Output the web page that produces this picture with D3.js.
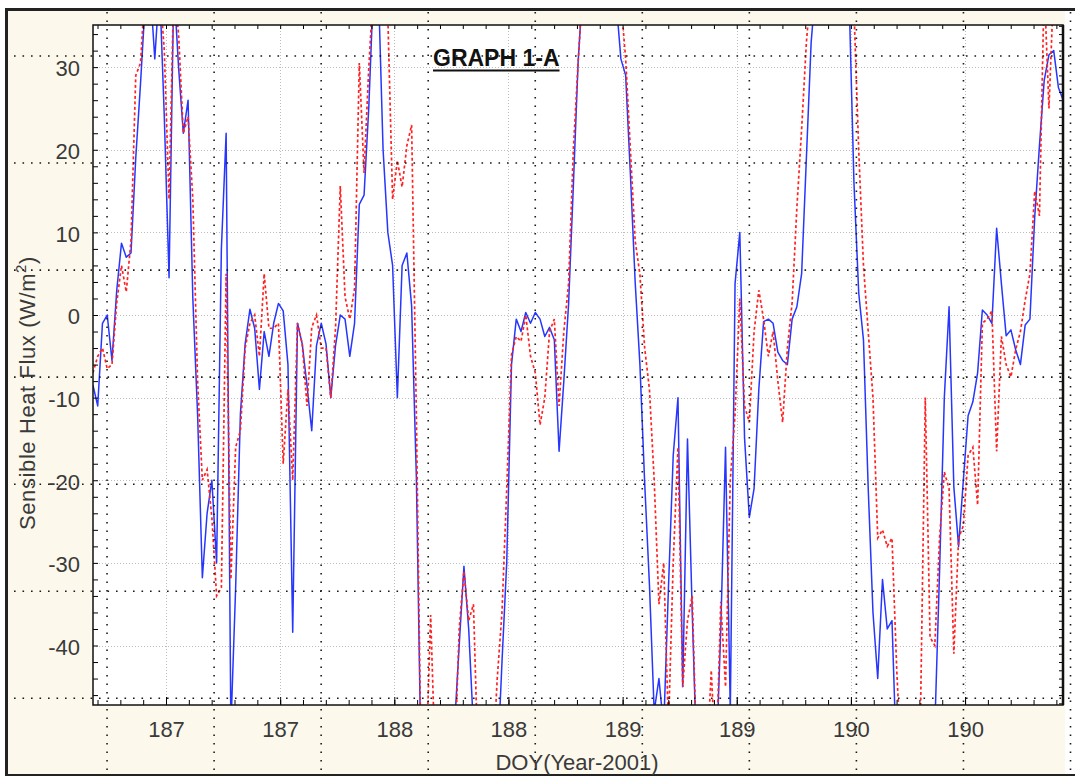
<!DOCTYPE html>
<html lang="en">
<head>
<meta charset="UTF-8">
<title>Graph 1-A</title>
<script src="https://d3js.org/d3.v7.min.js"></script>
<style>
  body { margin: 0; background: #fff; }
  svg { display: block; }
  text { font-family: "Liberation Sans", Arial, sans-serif; }
  .labels .tick text { fill: #3a3a3a; font-size: 22px; }
  .labels .domain { display: none; }
</style>
</head>
<body>
<svg width="1075" height="776"></svg>
<script>
// half-hourly samples starting at DOY 186.28
const doyStart = 186.28;
const doyStep = 1 / 48;

// sensible heat flux, W/m2 (values past the axis limits get clipped)
const measured = [
  -8.5, -11, -1, 0, -5.5, 3, 8.7, 7, 7.5, 19,
  28, 38, 40, 31, 40, 24, 4.5, 40, 30, 22,
  26, 2, -12, -31.8, -24, -20, -30, 8, 22, -50,
  -33, -12, -3.5, 0.7, -1.6, -9, -2, -5, -1, 1.4,
  0.5, -6, -38.4, -1, -3.5, -8.5, -14, -3.7, -1, -3.5,
  -10, -3.7, 0, -0.5, -5, -1, 13.4, 14.5, 25.2, 40,
  40, 20, 10, 6, -10, 6, 7.5, 1.1, -19.7, -55,
  -55, -55, -55, -55, -55, -55, -50, -40, -30.4, -38,
  -50, -55, -55, -55, -55, -55, -42, -29.9, -6, -0.5,
  -2, 0.3, -1, 0.3, -0.5, -2.6, -1.5, -3, -16.5, -8,
  1.3, 15.6, 30.5, 40, 40, 40, 40, 40, 40, 40,
  38, 31, 29, 17, 4, -6, -20.3, -32.6, -48, -44,
  -50, -33, -17, -10, -45, -15, -36, -55, -55, -55,
  -55, -55, -38, -16, -48, 3.8, 10, -14.9, -24.5, -21,
  -9, -0.8, -0.5, -1, -4.5, -5.5, -6, -0.5, 1, 5,
  19, 33, 40, 40, 40, 40, 40, 40, 40, 38,
  16, 2.7, -3, -21, -36, -44, -32, -38, -37, -55,
  -55, -55, -55, -55, -55, -55, -55, -50, -31, -10,
  1, -20.8, -28, -20, -12.2, -10.5, -7, 0.6, 0, -1,
  10.5, 3.8, -2.5, -1.8, -4.2, -6, -1.2, -0.5, 11.8, 20.5,
  28.4, 31.5, 32, 27.5, 26
];

const modelled = [
  -7, -5, -4, -6.5, -6, 1.5, 6, 2.8, 9, 29,
  30.5, 40, 40, 40, 40, 32, 14, 40, 34, 22,
  24, 14, -8, -20, -18.7, -24.5, -34, -33, 5, -32,
  -16, -14, -4, -1, 0, -5, 5, -1.6, -1.6, -1,
  -18, -9, -20, -1, -3.5, -11, -1.5, 0, -4, -4,
  -10, -1.6, 15.6, 2.2, -0.5, 3.2, 30.5, 17.2, 30, 40,
  40, 40, 36, 14, 18.7, 15.5, 20.5, 23, -12.2, -55,
  -55, -36.3, -55, -55, -55, -55, -55, -38, -31, -37,
  -35, -55, -55, -55, -55, -44, -36, -21, -4.8, -2.6,
  -3.2, 0, -5, -7, -13.3, -10, -2, -0.5, -11, -2,
  3.8, 20, 30.5, 40, 40, 40, 40, 40, 40, 40,
  40, 38, 31, 20, 9, 4.9, -4, -9, -20, -35,
  -30, -50, -30, -16, -45, -37, -34, -55, -48, -55,
  -43, -55, -34.7, -45, -20, -12, 2, -11, -13, -2,
  3, -0.5, -5, -2, -8, -13, -4, 1.5, 13, 22.5,
  33, 40, 40, 40, 40, 40, 40, 40, 40, 40,
  37, 20, 6, -2, -10, -27, -26, -28, -27, -43,
  -55, -55, -55, -55, -48, -10, -39, -40, -27, -19,
  -21, -41, -27, -25.5, -17, -16, -23, -1, -0.5, 0.5,
  -16.5, -2.6, -6, -7.5, -4.2, -2, 1.8, 5, 15, 12,
  40, 25, 40, 40, 40
];

const xTicks = [186.6, 187.1, 187.6, 188.1, 188.6, 189.1, 189.6, 190.1];
const yTicks = [-40, -30, -20, -10, 0, 10, 20, 30];

const svg = d3.select("svg");
const W = 1075, H = 776;
const plot = { left: 93, top: 25, right: 1063, bottom: 705 };

const x = d3.scaleLinear().domain([186.2802, 190.529]).range([plot.left, plot.right]);
const y = d3.scaleLinear().domain([-47.2, 35.1]).range([plot.bottom, plot.top]);

// window background + dark border
svg.append("rect").attr("x", 8).attr("y", 11).attr("width", 1057).attr("height", 763).attr("fill", "#fcf8ec");
svg.append("line").attr("x1", 5).attr("x2", W).attr("y1", 9.5).attr("y2", 9.5).attr("stroke", "#222").attr("stroke-width", 3);
svg.append("line").attr("x1", 6.5).attr("x2", 6.5).attr("y1", 8).attr("y2", H).attr("stroke", "#222").attr("stroke-width", 3);
svg.append("line").attr("x1", 5).attr("x2", W).attr("y1", 775).attr("y2", 775).attr("stroke", "#222").attr("stroke-width", 2);

svg.append("rect")
  .attr("x", plot.left).attr("y", plot.top)
  .attr("width", plot.right - plot.left).attr("height", plot.bottom - plot.top)
  .attr("fill", "#fff");

// light dotted grid
const grid = svg.append("g").attr("stroke", "#bdbdbd").attr("stroke-width", 1).attr("stroke-dasharray", "1,2");
grid.selectAll(".gx").data(xTicks).join("line")
  .attr("x1", d => Math.round(x(d)) + 0.5).attr("x2", d => Math.round(x(d)) + 0.5)
  .attr("y1", plot.top).attr("y2", plot.bottom);
grid.selectAll(".gy").data(yTicks).join("line")
  .attr("x1", plot.left).attr("x2", plot.right)
  .attr("y1", d => Math.round(y(d)) + 0.5).attr("y2", d => Math.round(y(d)) + 0.5);

// series
svg.append("clipPath").attr("id", "clip").append("rect")
  .attr("x", plot.left).attr("y", plot.top)
  .attr("width", plot.right - plot.left).attr("height", plot.bottom - plot.top);

const line = d3.line()
  .x((d, i) => x(doyStart + i * doyStep))
  .y(d => y(d));

const series = svg.append("g").attr("clip-path", "url(#clip)");
series.append("path").datum(measured)
  .attr("fill", "none").attr("stroke", "#2636ff").attr("stroke-width", 1.5)
  .attr("stroke-linejoin", "round").attr("d", line);
series.append("path").datum(modelled)
  .attr("fill", "none").attr("stroke", "#ff2222").attr("stroke-width", 1.7)
  .attr("stroke-dasharray", "3,2.5").attr("d", line);

// inward ticks
const minorX = d3.range(1863, 1906).map(v => v / 10);
svg.append("g").attr("transform", `translate(0,${plot.bottom})`)
  .call(d3.axisBottom(x).tickValues(minorX).tickSize(-5).tickFormat(""))
  .call(g => g.select(".domain").remove());
svg.append("g").attr("transform", `translate(0,${plot.bottom})`)
  .call(d3.axisBottom(x).tickValues(xTicks).tickSize(-8).tickFormat(""))
  .call(g => g.select(".domain").remove());
svg.append("g").attr("transform", `translate(0,${plot.top})`)
  .call(d3.axisTop(x).tickValues(minorX).tickSize(-4).tickFormat(""))
  .call(g => g.select(".domain").remove());
svg.append("g").attr("transform", `translate(${plot.left},0)`)
  .call(d3.axisLeft(y).tickValues(d3.range(-46, 35, 2)).tickSize(-5).tickFormat(""))
  .call(g => g.select(".domain").remove());
svg.append("g").attr("transform", `translate(${plot.right},0)`)
  .call(d3.axisRight(y).tickValues(d3.range(-47, 36, 1)).tickSize(-4).tickFormat(""))
  .call(g => g.select(".domain").remove());

// frame
svg.append("rect")
  .attr("x", plot.left).attr("y", plot.top)
  .attr("width", plot.right - plot.left).attr("height", plot.bottom - plot.top)
  .attr("fill", "none").attr("stroke", "#111").attr("stroke-width", 1.5);
svg.append("line").attr("x1", plot.right).attr("x2", plot.right)
  .attr("y1", plot.top).attr("y2", plot.bottom).attr("stroke", "#111").attr("stroke-width", 2.5);

// tick labels (plain hyphen minus like the original)
svg.append("g").attr("class", "labels")
  .attr("transform", `translate(${plot.left},0)`)
  .call(d3.axisLeft(y).tickValues(yTicks).tickSize(0).tickPadding(13).tickFormat(d => String(d)))
  .call(g => g.selectAll("text").attr("dy", "0.4em"));
svg.append("g").attr("class", "labels")
  .attr("transform", `translate(0,${plot.bottom})`)
  .call(d3.axisBottom(x).tickValues(xTicks).tickSize(0).tickPadding(16).tickFormat(d => d.toFixed(0)));

// axis titles
const yTitle = svg.append("text")
  .attr("transform", `translate(35,393) rotate(-90)`)
  .attr("text-anchor", "middle")
  .attr("fill", "#3a3a3a").attr("font-size", 22).attr("letter-spacing", 0.6);
yTitle.append("tspan").text("Sensible Heat Flux (W/m");
yTitle.append("tspan").attr("font-size", 15).attr("dy", -9).text("2");
yTitle.append("tspan").attr("dy", 9).text(")");

svg.append("text")
  .attr("x", 577).attr("y", 770)
  .attr("text-anchor", "middle")
  .attr("fill", "#3a3a3a").attr("font-size", 22)
  .text("DOY(Year-2001)");

// title
const title = svg.append("text")
  .attr("x", 433).attr("y", 66)
  .attr("font-family", "Lato, 'Open Sans', sans-serif")
  .attr("font-weight", "bold").attr("font-size", 23).attr("fill", "#111")
  .text("GRAPH 1-A");
const tw = title.node().getComputedTextLength();
svg.append("line").attr("x1", 433).attr("x2", 433 + tw)
  .attr("y1", 70.5).attr("y2", 70.5).attr("stroke", "#111").attr("stroke-width", 2);

// dotted layout grid drawn over the whole window
const overlay = svg.append("g").attr("stroke", "#1a1a1a").attr("stroke-width", 1.6).attr("stroke-dasharray", "1.6,6.9");
overlay.selectAll(".ov").data(d3.range(1, 11).map(k => 107.05 * k)).join("line")
  .attr("x1", d => d).attr("x2", d => d).attr("y1", 12).attr("y2", H);
overlay.selectAll(".oh").data(d3.range(0, 7).map(k => 56 + 107.05 * k)).join("line")
  .attr("x1", 14).attr("x2", W).attr("y1", d => d).attr("y2", d => d);
</script>
</body>
</html>
